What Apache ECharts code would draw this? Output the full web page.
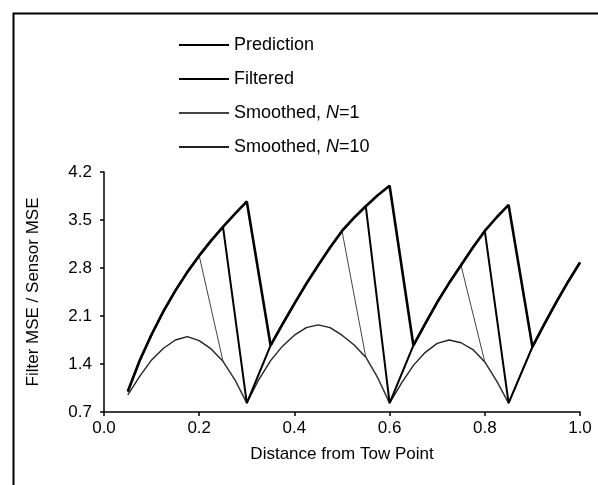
<!DOCTYPE html>
<html>
<head>
<meta charset="utf-8">
<script src="https://cdn.jsdelivr.net/npm/echarts@6/dist/echarts.min.js"></script>
<style>
  html, body { margin: 0; padding: 0; background: #fff; }
  #chart { width: 598px; height: 485px; }
</style>
</head>
<body>
<div id="chart"></div>
<script>
// upper (prediction) curves, one per interval between measurements
var upper1 = [[0.05,1.00],[0.075,1.45],[0.10,1.83],[0.125,2.17],[0.15,2.47],[0.175,2.74],[0.20,2.98],[0.225,3.20],[0.25,3.40],[0.275,3.59],[0.30,3.77]];
var upper2 = [[0.35,1.67],[0.375,1.98],[0.40,2.28],[0.425,2.57],[0.45,2.84],[0.475,3.10],[0.50,3.34],[0.525,3.53],[0.55,3.70],[0.575,3.86],[0.60,4.00]];
var upper3 = [[0.65,1.67],[0.675,1.99],[0.70,2.30],[0.725,2.58],[0.75,2.84],[0.775,3.10],[0.80,3.34],[0.825,3.54],[0.85,3.72]];
var upper4 = [[0.90,1.65],[0.925,1.98],[0.95,2.30],[0.975,2.60],[1.00,2.88]];
// lower arches (smoothed with long lag)
var arch1 = [[0.05,0.95],[0.075,1.22],[0.10,1.46],[0.125,1.63],[0.15,1.75],[0.175,1.80],[0.20,1.74],[0.225,1.62],[0.25,1.44],[0.275,1.17],[0.30,0.83]];
var arch2 = [[0.30,0.83],[0.325,1.17],[0.35,1.45],[0.375,1.66],[0.40,1.82],[0.425,1.93],[0.45,1.97],[0.475,1.93],[0.50,1.82],[0.525,1.68],[0.55,1.50],[0.575,1.20],[0.60,0.83]];
var arch3 = [[0.60,0.83],[0.625,1.12],[0.65,1.38],[0.675,1.57],[0.70,1.70],[0.725,1.75],[0.75,1.71],[0.775,1.61],[0.80,1.43],[0.825,1.15],[0.85,0.83]];
// values right after each measurement
var measured = [[0.30,0.83],[0.60,0.83],[0.85,0.83]];
var yTicks = [0.7, 1.4, 2.1, 2.8, 3.5, 4.2];

function upTo(arr, x) { return arr.filter(function(p){ return p[0] <= x + 1e-9; }); }
function from(arr, x) { return arr.filter(function(p){ return p[0] >= x - 1e-9; }); }

var prediction = [].concat(upper1, upper2, upper3, upper4);
var filtered = [].concat(upTo(upper1,0.25), [measured[0]], upTo(upper2,0.55), [measured[1]], upTo(upper3,0.80), [measured[2]], upper4);
var smooth1 = [].concat(upTo(upper1,0.20), from(arch1,0.25), upTo(upper2,0.50), from(arch2,0.55), upTo(upper3,0.75), from(arch3,0.80), upper4);
var smooth10 = [].concat(arch1, arch2.slice(1), arch3.slice(1), upper4);

var chart = echarts.init(document.getElementById('chart'), null, {renderer: 'canvas'});
var font = 'Liberation Sans, Arial, sans-serif';

function lineSeries(name, data, width, color, z) {
  return {
    name: name, type: 'line', data: data, symbol: 'none', z: z,
    lineStyle: { color: color, width: width },
    itemStyle: { color: color },
    animation: false
  };
}

chart.setOption({
  backgroundColor: '#fff',
  animation: false,
  graphic: [{
    type: 'rect', left: 11, top: 11,
    shape: { width: 620, height: 520 },
    style: { fill: 'none', stroke: '#000', lineWidth: 2 }
  }],
  legend: {
    orient: 'vertical', left: 173, top: 31,
    itemWidth: 50, itemHeight: 14, itemGap: 16,
    itemStyle: { color: 'transparent', borderWidth: 0, opacity: 0 },
    textStyle: {
      fontSize: 18, fontFamily: font, color: '#000',
      rich: { i: { fontSize: 18, fontFamily: font, color: '#000', fontStyle: 'italic' } }
    },
    data: ['Prediction', 'Filtered', 'Smoothed, N=1', 'Smoothed, N=10'],
    formatter: function(n){
      return n.replace('N=', '{i|N}=');
    }
  },
  grid: { left: 104, right: 18, top: 172, bottom: 73, containLabel: false, outerBoundsMode: 'none' },
  xAxis: {
    type: 'value', min: 0, max: 1, interval: 0.2,
    name: 'Distance from Tow Point', nameLocation: 'middle', nameGap: 34,
    nameTextStyle: { fontSize: 17, fontFamily: font, color: '#000' },
    axisLine: { lineStyle: { color: '#000', width: 1.5 } },
    axisTick: { show: true, length: 4, inside: false, lineStyle: { color: '#000', width: 1.5 } },
    axisLabel: { fontSize: 17, fontFamily: font, color: '#000', margin: 8,
      formatter: function(v){ return v.toFixed(1); } },
    splitLine: { show: false }
  },
  yAxis: {
    type: 'value', min: yTicks[0], max: yTicks[yTicks.length-1], interval: 0.7,
    name: 'Filter MSE / Sensor MSE', nameLocation: 'middle', nameGap: 62, nameRotate: 90,
    nameTextStyle: { fontSize: 17, fontFamily: font, color: '#000' },
    axisLine: { show: true, lineStyle: { color: '#000', width: 1.5 } },
    axisTick: { show: true, length: 4, inside: false, lineStyle: { color: '#000', width: 1.5 } },
    axisLabel: { fontSize: 17, fontFamily: font, color: '#000', margin: 12,
      formatter: function(v){ return v.toFixed(1); } },
    splitLine: { show: false }
  },
  series: [
    lineSeries('Smoothed, N=10', smooth10, 1.4, '#222', 2),
    lineSeries('Smoothed, N=1', smooth1, 1, '#444', 3),
    lineSeries('Filtered', filtered, 2, '#000', 4),
    lineSeries('Prediction', prediction, 2.6, '#000', 5)
  ]
});
</script>
</body>
</html>
